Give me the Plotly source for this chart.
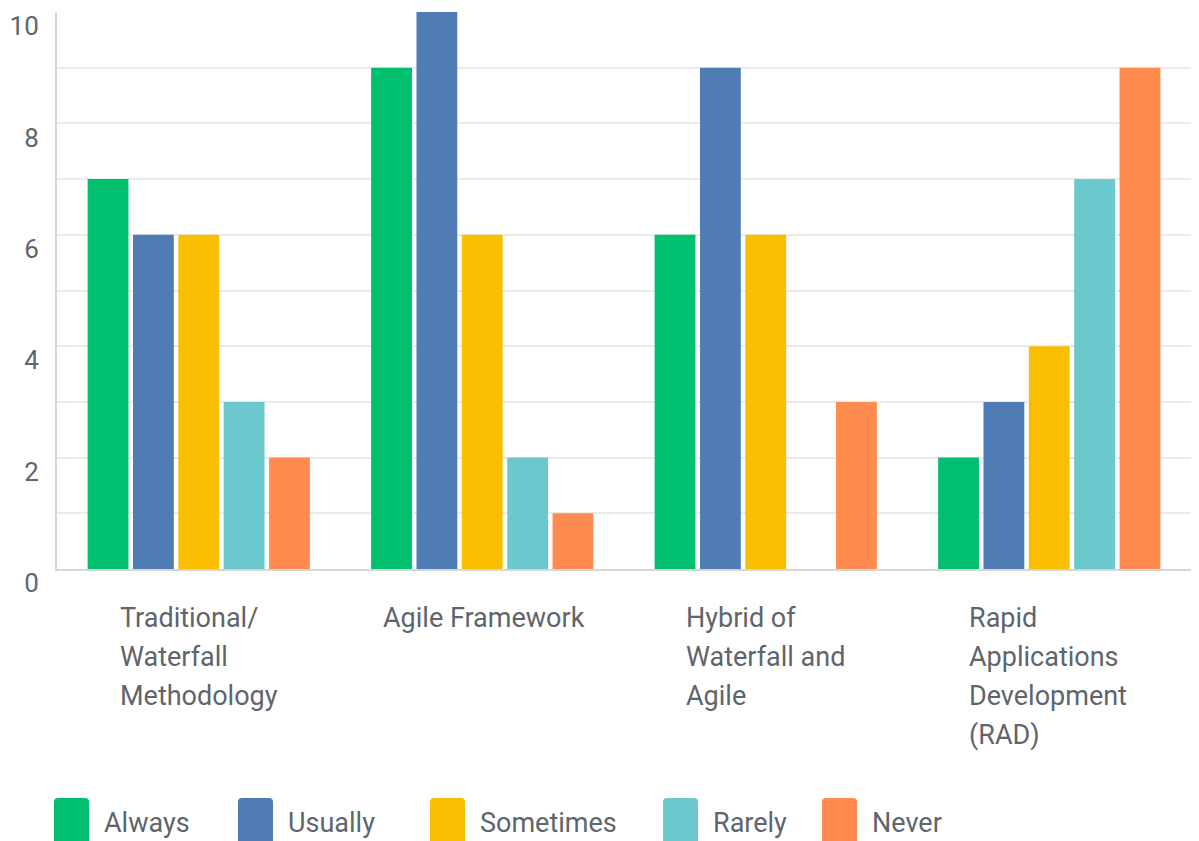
import plotly.graph_objects as go

categories = ["Traditional/ Waterfall Methodology", "Agile Framework",
              "Hybrid of Waterfall and Agile", "Rapid Applications Development (RAD)"]
category_lines = [["Traditional/", "Waterfall", "Methodology"],
                  ["Agile Framework"],
                  ["Hybrid of", "Waterfall and", "Agile"],
                  ["Rapid", "Applications", "Development", "(RAD)"]]
series_names = ["Always", "Usually", "Sometimes", "Rarely", "Never"]
always = [7, 9, 6, 2]
usually = [6, 10, 9, 3]
sometimes = [6, 6, 6, 4]
rarely = [3, 2, 0, 7]
never = [2, 1, 3, 9]
tick_vals = [0, 2, 4, 6, 8, 10]

series_values = [always, usually, sometimes, rarely, never]
colors = ["#00BF6F", "#507CB6", "#F9BE00", "#6BC8CD", "#FF8B4F"]
text_color = "#5F656C"
FONT = "Roboto"

# layout geometry (screen pixels; page body has an 8px margin)
OFF = 8
W, H = 1199 - OFF, 841 - OFF
PLOT_L, PLOT_R, PLOT_T, PLOT_B = 57, 1191, 12, 569   # screen coords
ML = PLOT_L - OFF
MT = PLOT_T - OFF
MR = W - (PLOT_R - OFF)
MB = H - (PLOT_B - OFF)
PW = PLOT_R - PLOT_L
PH = PLOT_B - PLOT_T

def px2x(px):
    return (px - PLOT_L) / PW

def py2y(py):
    return (PLOT_B - py) / PH

fig = go.Figure()
for name, vals, col in zip(series_names, series_values, colors):
    fig.add_trace(go.Bar(x=categories, y=vals, name=name, marker_color=col,
                         marker_line_width=0, showlegend=False))

annotations = []
# category labels: left-aligned text block centred on category
label_offsets = [-81, -101, -82, -82]
line_pitch = 39
first_line_center = 618
for cat, lines, off in zip(categories, category_lines, label_offsets):
    for i, ln in enumerate(lines):
        annotations.append(dict(
            x=cat, xref="x", y=0, yref="paper", xanchor="left", yanchor="middle",
            xshift=off, yshift=-(first_line_center + i * line_pitch - PLOT_B),
            text=ln, showarrow=False,
            font=dict(family=FONT, size=27, color=text_color)))

# custom legend
legend_box_x = [54, 238, 430, 663, 822]
box_w, box_top, box_bot, rad = 35, 798, 850, 4
shapes = []

def rounded_path(x0, y0, x1, y1, r):
    # pixel coords -> paper coords, rounded rectangle
    def P(px, py):
        return f"{px2x(px):.5f},{py2y(py):.5f}"
    return (f"M{P(x0 + r, y0)} L{P(x1 - r, y0)} Q{P(x1, y0)} {P(x1, y0 + r)} "
            f"L{P(x1, y1 - r)} Q{P(x1, y1)} {P(x1 - r, y1)} L{P(x0 + r, y1)} "
            f"Q{P(x0, y1)} {P(x0, y1 - r)} L{P(x0, y0 + r)} Q{P(x0, y0)} {P(x0 + r, y0)} Z")

for name, col, bx in zip(series_names, colors, legend_box_x):
    shapes.append(dict(type="path", xref="paper", yref="paper",
                       path=rounded_path(bx, box_top, bx + box_w, box_bot, rad),
                       fillcolor=col, line=dict(width=0), layer="above"))
    annotations.append(dict(
        x=px2x(bx + box_w + 13), xref="paper", y=py2y(823), yref="paper",
        xanchor="left", yanchor="middle", text=name, showarrow=False,
        font=dict(family=FONT, size=27, color=text_color)))

fig.update_layout(
    width=W, height=H,
    margin=dict(l=ML, r=MR, t=MT, b=MB, pad=0, autoexpand=False),
    plot_bgcolor="white", paper_bgcolor="white",
    barmode="group", bargap=0.2, bargroupgap=0.1,
    font=dict(family=FONT, size=27, color=text_color),
    annotations=annotations, shapes=shapes,
    showlegend=False,
)
fig.update_xaxes(showticklabels=False, showgrid=False, showline=True,
                 linecolor="#D6D6D6", linewidth=2, ticks="", automargin=False)
fig.update_yaxes(range=[0, 10], tickvals=tick_vals, showgrid=True,
                 gridcolor="#EBEBEB", gridwidth=2,
                 minor=dict(dtick=1, showgrid=True, gridcolor="#EBEBEB", gridwidth=2),
                 showline=True, linecolor="#D6D6D6", linewidth=2, ticks="",
                 zeroline=False, ticklabelshift=14, ticklabelstandoff=11,
                 automargin=False,
                 tickfont=dict(family=FONT, size=26, color=text_color))

fig.write_html("out.html")
